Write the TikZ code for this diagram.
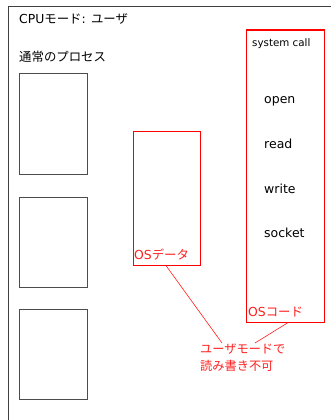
\documentclass[tikz,border=0pt]{standalone}
\usepackage{fontspec}
\setmainfont{DejaVu Sans}
\newfontfamily\jp{Noto Sans CJK JP}
\definecolor{myred}{RGB}{255,30,30}
\begin{document}
\begin{tikzpicture}[x=1pt,y=-1pt,
  pbox/.style={draw=black!70,line width=0.9pt,inner sep=0,anchor=north west},
  rbox/.style={draw=red,line width=1.1pt,inner sep=0,anchor=north west},
  lbl/.style={inner sep=0,anchor=base west,font=\fontsize{12.4}{14}\selectfont},
  sys/.style={inner sep=0,anchor=base west,font=\fontsize{12.5}{14}\selectfont},
  rlbl/.style={lbl,text=myred},
  rline/.style={draw=myred,line width=0.6pt}]
\useasboundingbox (0,0) rectangle (331,420);
\draw[black!75,line width=0.9pt] (8,421) -- (8,6) -- (332,6);
% OS boxes
\node[rbox,minimum width=78pt,minimum height=292pt] (osc) at (245.5,29.5) {};
\node[rbox,minimum width=67pt,minimum height=134pt] (osd) at (132.5,130.5) {};
% process boxes
\node[pbox,minimum width=68pt,minimum height=101pt] (p1) at (19,73) {};
\node[pbox,minimum width=68pt,minimum height=90pt] (p2) at (19,197) {};
\node[pbox,minimum width=68pt,minimum height=90pt] (p3) at (19,309) {};
% connectors
\coordinate (a1) at (222,343);
\coordinate (a2) at (255,343);
\draw[rline] (osd.south -| 166,0) -- (a1);
\draw[rline] (osc.south -| 288,0) -- (a2);
% titles
\node[lbl] (cpu) at (19,24) {CPU{\jp モード}: {\jp ユーザ}};
\node[lbl] (proc) at (19,62) {\jp 通常のプロセス};
\node[inner sep=0,anchor=base west,font=\fontsize{10.3}{12}\selectfont] (sc) at (252,47) {system call};
\node[sys] (open) at (264,103) {open};
\node[sys] (read) at (264,148) {read};
\node[sys] (write) at (264,193) {write};
\node[sys] (socket) at (264,237) {socket};
\node[rlbl] (osdl) at (134,259) {OS{\jp データ}};
\node[rlbl] (oscl) at (248,316) {OS{\jp コード}};
\node[inner sep=0,anchor=north west,align=left,text=myred,font=\jp\fontsize{12.2}{17}\selectfont] (ann) at (200,344) {ユーザモードで\\読み書き不可};
\end{tikzpicture}
\end{document}
